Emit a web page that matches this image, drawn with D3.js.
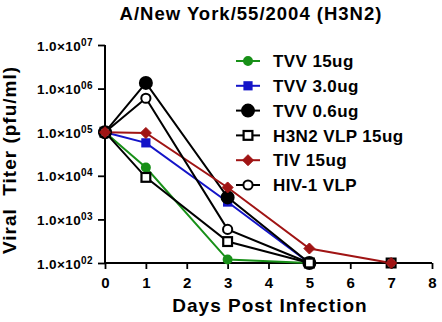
<!DOCTYPE html>
<html>
<head>
<meta charset="utf-8">
<script src="https://cdn.jsdelivr.net/npm/d3@7"></script>
<style>
body { margin: 0; background: #fff; }
text { font-family: "Liberation Sans", Arial, sans-serif; font-weight: bold; }
</style>
</head>
<body>
<svg width="442" height="322"></svg>
<script>
var days = [0, 1, 3, 5, 7];
var seriesNames = ['TVV 15ug', 'TVV 3.0ug', 'TVV 0.6ug', 'H3N2 VLP 15ug', 'TIV 15ug', 'HIV-1 VLP'];
var tvv15 = [1e5, 1.55e4, 120, 100, null];
var tvv30 = [1e5, 5.7e4, 2.5e3, 100, null];
var tvv06 = [1e5, 1.35e6, 3.2e3, 100, null];
var h3n2vlp = [1e5, 9.2e3, 310, 100, 100];
var tiv15 = [1e5, 9.6e4, 5.4e3, 215, 100];
var hivvlp = [1e5, 6e5, 590, 100, null];
var yTicks = [1e2, 1e3, 1e4, 1e5, 1e6, 1e7];
var xTicks = [0, 1, 2, 3, 4, 5, 6, 7, 8];

var styles = [
    { color: '#189018', shape: 'circle', r: 4, fill: true },
    { color: '#1414c8', shape: 'square', r: 4.6, fill: true },
    { color: '#000', shape: 'circle', r: 6, fill: true },
    { color: '#000', shape: 'square', r: 4.4, fill: false },
    { color: '#a01414', shape: 'diamond', r: 5.5, fill: true },
    { color: '#000', shape: 'circle', r: 4.6, fill: false }
];
var values = [tvv15, tvv30, tvv06, h3n2vlp, tiv15, hivvlp];
// order in which markers are stacked (last on top)
var markerOrder = [0, 1, 2, 5, 3, 4];

var svg = d3.select('svg');
var x = d3.scaleLinear().domain([0, 8]).range([105, 432]);
var y = d3.scaleLog().domain([1e2, 1e7]).range([263, 45]);

function drawMarker(g, s, cx, cy) {
    var fill = s.fill ? s.color : '#fff';
    if (s.shape === 'circle') {
        g.append('circle').attr('cx', cx).attr('cy', cy).attr('r', s.r)
            .attr('fill', fill).attr('stroke', s.color).attr('stroke-width', 2);
    } else if (s.shape === 'square') {
        g.append('rect').attr('x', cx - s.r).attr('y', cy - s.r)
            .attr('width', s.r * 2).attr('height', s.r * 2)
            .attr('fill', fill).attr('stroke', s.color).attr('stroke-width', s.fill ? 0 : 2.2);
    } else {
        var r = s.r;
        g.append('path').attr('d', `M${cx},${cy - r}L${cx + r},${cy}L${cx},${cy + r}L${cx - r},${cy}Z`)
            .attr('fill', fill).attr('stroke', s.color).attr('stroke-width', 1);
    }
}

// axes
var xAxis = svg.append('g').attr('transform', 'translate(0,263)')
    .call(d3.axisBottom(x).tickValues(xTicks).tickSize(6).tickFormat(d3.format('d')));
xAxis.select('.domain').attr('stroke-width', 2).attr('d', 'M105,0H432');
xAxis.selectAll('.tick line').attr('stroke-width', 1.8);
xAxis.selectAll('.tick text').attr('font-size', 15).attr('dy', '1.05em');

var yAxis = svg.append('g').attr('transform', 'translate(105,0)')
    .call(d3.axisLeft(y).tickValues(yTicks).tickSize(7).tickFormat(''));
yAxis.select('.domain').attr('stroke-width', 2).attr('d', 'M0,45V263');
yAxis.selectAll('.tick line').attr('stroke-width', 1.8);
yAxis.selectAll('.tick').append('text')
    .attr('x', -12).attr('dy', '0.38em').attr('text-anchor', 'end').attr('fill', '#000')
    .attr('font-size', 13.5).attr('letter-spacing', 0.4)
    .each(function (d) {
        var t = d3.select(this);
        var e = Math.round(Math.log10(d));
        t.append('tspan').text('1.0\u00d710');
        t.append('tspan').attr('font-size', 10).attr('dy', '-0.5em').text('0' + e);
    });

// series
values.forEach(function (vals, i) {
    var s = styles[i];
    var pts = days.map((d, j) => [d, vals[j]]).filter(p => p[1] != null);
    var line = d3.line().x(p => x(p[0])).y(p => y(p[1]));
    svg.append('path').datum(pts).attr('d', line)
        .attr('fill', 'none').attr('stroke', s.color).attr('stroke-width', 2);
});
markerOrder.forEach(function (i) {
    var vals = values[i];
    var g = svg.append('g');
    days.forEach(function (d, j) {
        if (vals[j] != null) drawMarker(g, styles[i], x(d), y(vals[j]));
    });
});

// legend
var legend = svg.append('g');
seriesNames.forEach(function (name, i) {
    var ly = 61 + i * 24.8;
    var s = styles[i];
    legend.append('line').attr('x1', 236).attr('x2', 260).attr('y1', ly).attr('y2', ly)
        .attr('stroke', s.color).attr('stroke-width', 2);
    drawMarker(legend, s, 248, ly);
    legend.append('text').attr('x', 273).attr('y', ly).attr('dy', '0.36em')
        .attr('font-size', 17).attr('letter-spacing', 0.4).text(name);
});

// titles
svg.append('text').attr('x', 251).attr('y', 20).attr('text-anchor', 'middle')
    .attr('font-size', 18.5).attr('letter-spacing', 1).text('A/New York/55/2004 (H3N2)');
svg.append('text').attr('x', 270).attr('y', 312).attr('text-anchor', 'middle')
    .attr('font-size', 19).attr('letter-spacing', 1).text('Days Post Infection');
svg.append('text').attr('transform', 'translate(16,160) rotate(-90)').attr('text-anchor', 'middle')
    .attr('font-size', 19).attr('letter-spacing', 1).attr('xml:space', 'preserve').text('Viral  Titer (pfu/ml)');
</script>
</body>
</html>
